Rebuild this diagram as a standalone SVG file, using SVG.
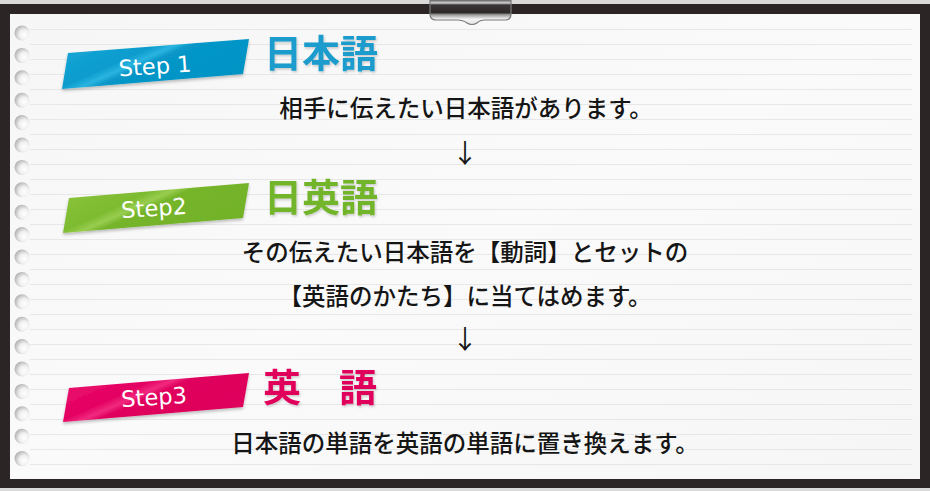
<svg xmlns="http://www.w3.org/2000/svg" width="930" height="491" viewBox="0 0 930 491">
<defs>
<style>
.line{stroke:#e7e7e7;stroke-width:1.2;fill:none}
.step{font-family:"DejaVu Sans","Liberation Sans",sans-serif;font-size:22.5px;fill:#fff;text-anchor:middle}
.title{font-family:"Noto Sans CJK JP","Noto Sans",sans-serif;font-size:38px;font-weight:bold}
.body{font-family:"Noto Sans CJK JP","Noto Sans",sans-serif;font-size:23.5px;font-weight:500;fill:#151515;text-anchor:middle}
.arrow{font-family:"Noto Sans CJK JP","DejaVu Sans",sans-serif;font-size:26px;fill:#151515;text-anchor:middle}
</style>
<radialGradient id="hole" cx="0.65" cy="0.62" r="0.72">
<stop offset="0" stop-color="#ffffff"/>
<stop offset="0.45" stop-color="#f0f0f0"/>
<stop offset="1" stop-color="#a9a9a9"/>
</radialGradient>
<linearGradient id="paper" x1="0" y1="0" x2="1" y2="1">
<stop offset="0" stop-color="#f6f6f6"/>
<stop offset="0.5" stop-color="#fafafa"/>
<stop offset="1" stop-color="#f6f6f6"/>
</linearGradient>
<linearGradient id="clipg" x1="0" y1="0" x2="0" y2="1">
<stop offset="0" stop-color="#5a5a5a"/>
<stop offset="0.12" stop-color="#d8d8d8"/>
<stop offset="0.2" stop-color="#3b3637"/>
<stop offset="0.52" stop-color="#2e2929"/>
<stop offset="0.6" stop-color="#9a9a9a"/>
<stop offset="0.78" stop-color="#f4f4f4"/>
<stop offset="1" stop-color="#e2e2e2"/>
</linearGradient>
<linearGradient id="blue" x1="0" y1="0" x2="1" y2="0.6">
<stop offset="0" stop-color="#1aa8d8"/>
<stop offset="0.42" stop-color="#0b9ccd"/>
<stop offset="0.5" stop-color="#2ab4e0"/>
<stop offset="0.56" stop-color="#0796c7"/>
<stop offset="1" stop-color="#0094c5"/>
</linearGradient>
<linearGradient id="green" x1="0" y1="0" x2="1" y2="0.6">
<stop offset="0" stop-color="#8dc640"/>
<stop offset="0.42" stop-color="#7dbb2f"/>
<stop offset="0.5" stop-color="#98cd4f"/>
<stop offset="0.56" stop-color="#76b52b"/>
<stop offset="1" stop-color="#72b228"/>
</linearGradient>
<linearGradient id="pink" x1="0" y1="0" x2="1" y2="0.6">
<stop offset="0" stop-color="#ec1570"/>
<stop offset="0.42" stop-color="#e40062"/>
<stop offset="0.5" stop-color="#f02a7e"/>
<stop offset="0.56" stop-color="#e0005d"/>
<stop offset="1" stop-color="#de005b"/>
</linearGradient>
<filter id="shadow" x="-10%" y="-20%" width="120%" height="150%">
<feDropShadow dx="0" dy="2" stdDeviation="1.5" flood-color="#000" flood-opacity="0.25"/>
</filter>
<filter id="tshadow" x="-10%" y="-20%" width="120%" height="150%">
<feDropShadow dx="1" dy="1.5" stdDeviation="0.8" flood-color="#000" flood-opacity="0.2"/>
</filter>
<circle id="h" r="7.5" fill="url(#hole)"/>
</defs>

<g id="frame">
<rect x="0" y="0" width="930" height="491" fill="#d9d9d9"/>
<rect x="0" y="4" width="930" height="484" fill="#2b2625"/>
<rect x="10" y="14" width="910" height="465" fill="url(#paper)"/>
<path class="line" d="M30 29.5H912M30 44.5H912M30 59.5H912M30 74.5H912M30 89.5H912M30 104.5H912M30 119.5H912M30 134.5H912M30 149.5H912M30 164.5H912M30 179.5H912M30 194.5H912M30 209.5H912M30 224.5H912M30 239.5H912M30 254.5H912M30 269.5H912M30 284.5H912M30 299.5H912M30 314.5H912M30 329.5H912M30 344.5H912M30 359.5H912M30 374.5H912M30 389.5H912M30 404.5H912M30 419.5H912M30 434.5H912M30 449.5H912M30 464.5H912"/>
<use href="#h" x="22" y="33"/><use href="#h" x="22" y="55.4"/><use href="#h" x="22" y="77.8"/><use href="#h" x="22" y="100.2"/><use href="#h" x="22" y="122.6"/><use href="#h" x="22" y="145"/><use href="#h" x="22" y="167.4"/><use href="#h" x="22" y="189.8"/><use href="#h" x="22" y="212.2"/><use href="#h" x="22" y="234.6"/><use href="#h" x="22" y="257"/><use href="#h" x="22" y="279.4"/><use href="#h" x="22" y="301.8"/><use href="#h" x="22" y="324.2"/><use href="#h" x="22" y="346.6"/><use href="#h" x="22" y="369"/><use href="#h" x="22" y="391.4"/><use href="#h" x="22" y="413.8"/><use href="#h" x="22" y="436.2"/><use href="#h" x="22" y="458.6"/>
<path d="M430 0H511V14Q511 20 505 20H485Q480 20 477 23Q472 26 467 23Q463 20 457 20H436Q430 20 430 14Z" fill="url(#clipg)" stroke="#7a7a7a" stroke-width="1.2"/>
</g>

<g id="step1">
<polygon points="68,53 249,39 243,74 62,89" fill="url(#blue)" filter="url(#shadow)"/>
<text class="step" x="155" y="74" transform="rotate(-4 155 66)">Step 1</text>
<text class="title" x="264" y="67" fill="#1a9ccd" filter="url(#tshadow)">日本語</text>
<text class="body" x="466" y="117">相手に伝えたい日本語があります。</text>
</g>

<g id="step2">
<polygon points="69,198 249,183 243,218 63,233" fill="url(#green)" filter="url(#shadow)"/>
<text class="step" x="154" y="216" transform="rotate(-4 154 208)">Step2</text>
<text class="title" x="264" y="211" fill="#72b52b" filter="url(#tshadow)">日英語</text>
<text class="body" x="465" y="261">その伝えたい日本語を【動詞】とセットの</text>
<text class="body" x="465" y="305">【英語のかたち】に当てはめます。</text>
</g>

<g id="step3">
<polygon points="69,388 249,373 243,407 63,422" fill="url(#pink)" filter="url(#shadow)"/>
<text class="step" x="154" y="405" transform="rotate(-4 154 397)">Step3</text>
<text class="title" x="263" y="401" fill="#e0005c" filter="url(#tshadow)">英　語</text>
<text class="body" x="465" y="452">日本語の単語を英語の単語に置き換えます。</text>
</g>

<g id="connectors">
<text class="arrow" x="465" y="163">↓</text>
<text class="arrow" x="465" y="349">↓</text>
</g>
</svg>
